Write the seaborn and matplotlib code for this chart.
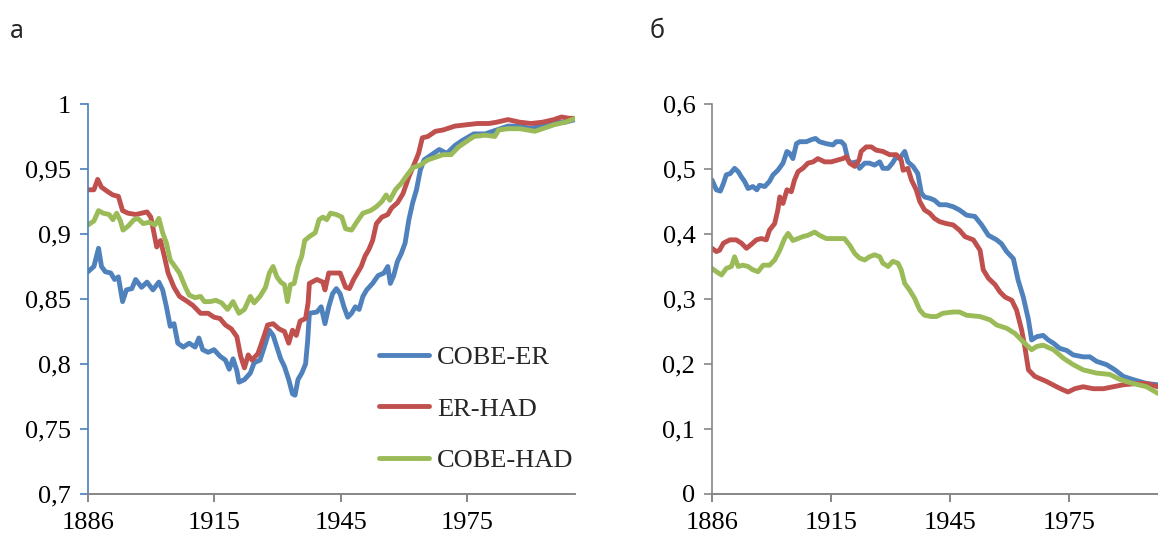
import matplotlib
matplotlib.use("Agg")
import matplotlib.pyplot as plt
from matplotlib.lines import Line2D
import numpy as np
import pandas as pd
import seaborn as sns

# ---------------- data ----------------
series_names = ["COBE-ER", "ER-HAD", "COBE-HAD"]
series_colors = ["#4F81BD", "#C0504D", "#9BBB59"]

x_tick_pos = [0, 30, 60, 90]
x_tick_labels = ["1886", "1915", "1945", "1975"]

a_y_ticks = [0.7, 0.75, 0.8, 0.85, 0.9, 0.95, 1.0]
a_y_labels = ["0,7", "0,75", "0,8", "0,85", "0,9", "0,95", "1"]
b_y_ticks = [0.0, 0.1, 0.2, 0.3, 0.4, 0.5, 0.6]
b_y_labels = ["0", "0,1", "0,2", "0,3", "0,4", "0,5", "0,6"]

# panel a (category index from 1886)
a_cobe_er_x = [0, 1.4, 2.5, 3.2, 4.1, 5.4, 6.3, 7.2, 8.2, 9.1, 10.4, 11.3, 12.7, 14.0, 15.4, 16.8, 17.7, 18.6,
               19.5, 20.4, 21.3, 22.6, 24.0, 25.4, 26.3, 27.2, 28.5, 29.9, 31.3, 32.6, 33.5, 34.4, 35.3, 35.8,
               37.1, 38.5, 39.4, 40.8, 42.1, 43.0, 43.9, 44.8, 45.7, 46.6, 47.6, 48.5, 49.1, 49.8, 50.7, 51.6,
               52.1, 52.5, 54.3, 55.3, 56.2, 57.1, 58.0, 58.9, 59.8, 60.7, 61.6, 62.5, 63.4, 64.3, 65.2, 66.1,
               67.5, 68.8, 70.2, 71.1, 71.7, 72.5, 73.4, 74.3, 75.2, 76.1, 77.0, 77.9, 78.8, 79.7, 81.5, 83.3,
               85.1, 87.0, 88.8, 91.5, 94.2, 96.9, 99.6, 102.4, 105.1, 107.8, 110.5, 113.2, 115.5]
a_cobe_er_y = [0.871, 0.875, 0.889, 0.875, 0.871, 0.870, 0.865, 0.867, 0.848, 0.857, 0.858, 0.865, 0.859, 0.863,
               0.857, 0.863, 0.857, 0.844, 0.829, 0.831, 0.816, 0.813, 0.816, 0.813, 0.820, 0.811, 0.809, 0.811,
               0.806, 0.803, 0.796, 0.804, 0.795, 0.786, 0.788, 0.793, 0.801, 0.803, 0.816, 0.826, 0.822, 0.813,
               0.804, 0.798, 0.788, 0.777, 0.776, 0.788, 0.793, 0.800, 0.818, 0.839, 0.840, 0.844, 0.831, 0.844,
               0.854, 0.858, 0.854, 0.844, 0.836, 0.839, 0.844, 0.842, 0.852, 0.857, 0.862, 0.868, 0.870, 0.875,
               0.862, 0.868, 0.879, 0.885, 0.893, 0.911, 0.924, 0.934, 0.949, 0.957, 0.961, 0.965, 0.962, 0.968,
               0.972, 0.977, 0.977, 0.980, 0.983, 0.983, 0.981, 0.984, 0.986, 0.986, 0.988]

a_er_had_x = [0, 1.4, 2.3, 3.2, 4.5, 5.9, 7.2, 8.2, 9.5, 11.3, 12.7, 14.0, 14.9, 16.3, 17.2, 18.1, 19.0, 20.4,
              21.7, 23.6, 24.9, 25.8, 26.7, 28.5, 29.9, 31.3, 32.6, 34.0, 35.3, 36.2, 37.1, 38.0, 38.9, 40.3,
              41.7, 42.6, 43.9, 45.3, 46.6, 47.6, 48.5, 49.4, 50.3, 51.6, 52.2, 52.5, 54.3, 55.7, 56.2, 57.1,
              58.4, 59.8, 61.1, 62.0, 63.0, 63.9, 64.8, 65.7, 66.6, 67.5, 68.4, 69.7, 71.1, 72.0, 73.4, 74.7,
              76.1, 77.4, 78.4, 79.3, 80.6, 82.4, 84.2, 87.0, 89.7, 92.4, 95.1, 96.9, 99.6, 102.4, 105.1, 107.8,
              110.5, 112.3, 114.1, 115.5]
a_er_had_y = [0.934, 0.934, 0.942, 0.936, 0.933, 0.930, 0.929, 0.918, 0.916, 0.915, 0.916, 0.917, 0.913, 0.890,
              0.895, 0.883, 0.870, 0.859, 0.852, 0.848, 0.845, 0.842, 0.839, 0.839, 0.836, 0.835, 0.830, 0.827,
              0.821, 0.806, 0.797, 0.807, 0.803, 0.808, 0.821, 0.830, 0.831, 0.827, 0.825, 0.816, 0.826, 0.822,
              0.833, 0.835, 0.847, 0.862, 0.865, 0.863, 0.857, 0.870, 0.870, 0.870, 0.859, 0.858, 0.865, 0.870,
              0.875, 0.883, 0.888, 0.895, 0.908, 0.913, 0.915, 0.920, 0.924, 0.931, 0.944, 0.954, 0.962, 0.974,
              0.975, 0.979, 0.980, 0.983, 0.984, 0.985, 0.985, 0.986, 0.988, 0.986, 0.985, 0.986, 0.988, 0.990,
              0.989, 0.989]

a_cobe_had_x = [0, 1.4, 2.5, 3.6, 5.0, 5.9, 6.8, 7.7, 8.3, 9.5, 10.9, 11.8, 13.1, 14.5, 15.9, 16.8, 17.7, 18.6,
                19.5, 20.4, 21.7, 23.1, 24.0, 25.4, 26.7, 27.6, 29.0, 30.3, 31.7, 33.1, 34.4, 35.8, 37.1, 38.5,
                39.4, 40.8, 42.1, 43.0, 43.9, 44.8, 45.7, 46.6, 47.3, 48.0, 48.9, 49.8, 50.7, 51.4, 52.5, 53.9,
                54.8, 55.7, 56.6, 57.5, 58.9, 60.2, 61.1, 62.5, 63.9, 65.2, 67.0, 68.4, 69.7, 70.7, 71.6, 72.9,
                74.3, 75.6, 77.0, 78.8, 80.6, 82.4, 84.2, 86.1, 87.9, 89.7, 91.5, 94.2, 96.5, 97.4, 99.6, 102.4,
                104.2, 106.0, 107.8, 110.5, 113.2, 115.5]
a_cobe_had_y = [0.907, 0.910, 0.918, 0.916, 0.915, 0.911, 0.916, 0.910, 0.903, 0.906, 0.911, 0.912, 0.908, 0.909,
                0.907, 0.912, 0.901, 0.893, 0.880, 0.876, 0.870, 0.859, 0.853, 0.851, 0.852, 0.848, 0.848, 0.849,
                0.847, 0.842, 0.848, 0.839, 0.842, 0.852, 0.847, 0.852, 0.859, 0.870, 0.875, 0.867, 0.863, 0.861,
                0.848, 0.861, 0.862, 0.875, 0.883, 0.895, 0.898, 0.901, 0.911, 0.913, 0.911, 0.916, 0.915, 0.913,
                0.904, 0.903, 0.910, 0.916, 0.918, 0.921, 0.925, 0.930, 0.926, 0.934, 0.939, 0.945, 0.951, 0.953,
                0.957, 0.959, 0.961, 0.961, 0.967, 0.971, 0.975, 0.976, 0.975, 0.980, 0.981, 0.981, 0.980, 0.979,
                0.981, 0.984, 0.986, 0.989]

# panel b
b_cobe_er_x = [0, 1.1, 2.1, 2.9, 3.6, 4.6, 5.7, 6.6, 7.4, 8.2, 9.1, 10.3, 11.3, 12.0, 13.3, 14.5, 15.4, 16.6,
               17.9, 18.9, 19.6, 20.4, 21.3, 22.1, 23.8, 25.0, 26.1, 27.1, 28.8, 30.5, 31.3, 32.6, 33.4, 34.3,
               35.1, 36.4, 37.2, 38.5, 39.7, 41.0, 42.3, 43.1, 44.4, 45.5, 46.5, 47.3, 48.6, 49.4, 50.7, 51.9,
               52.8, 53.6, 54.9, 56.1, 57.4, 59.1, 60.8, 62.4, 64.2, 66.3, 68.0, 69.7, 71.8, 73.0, 74.3, 76.0,
               77.2, 78.5, 79.8, 80.6, 81.9, 83.5, 84.8, 86.1, 87.7, 89.4, 91.1, 93.6, 95.3, 97.0, 99.5, 101.6,
               103.7, 106.2, 109.6, 112.4, 115.5]
b_cobe_er_y = [0.483, 0.468, 0.466, 0.478, 0.491, 0.493, 0.501, 0.496, 0.488, 0.481, 0.470, 0.473, 0.468, 0.475,
               0.473, 0.481, 0.491, 0.498, 0.509, 0.527, 0.524, 0.516, 0.539, 0.542, 0.542, 0.545, 0.547, 0.542,
               0.539, 0.537, 0.542, 0.542, 0.537, 0.514, 0.509, 0.511, 0.501, 0.509, 0.509, 0.506, 0.511, 0.501,
               0.501, 0.509, 0.519, 0.516, 0.527, 0.511, 0.504, 0.493, 0.463, 0.457, 0.455, 0.452, 0.445, 0.445,
               0.442, 0.437, 0.429, 0.427, 0.414, 0.398, 0.391, 0.385, 0.373, 0.362, 0.329, 0.303, 0.268, 0.237,
               0.242, 0.244, 0.237, 0.232, 0.224, 0.221, 0.214, 0.211, 0.211, 0.204, 0.199, 0.191, 0.181, 0.176,
               0.170, 0.168, 0.166]

b_er_had_x = [0, 1.1, 1.9, 2.9, 4.5, 6.1, 7.4, 8.7, 9.9, 11.2, 12.4, 13.7, 14.5, 15.8, 16.6, 17.1, 17.9, 18.9,
              20.0, 20.8, 21.7, 22.9, 24.2, 25.5, 26.7, 28.4, 30.1, 31.8, 33.0, 33.9, 34.7, 36.0, 37.1, 37.6,
              38.9, 40.2, 41.4, 43.1, 44.8, 46.5, 47.7, 48.2, 49.4, 50.3, 51.5, 52.4, 53.6, 54.9, 56.1, 57.4,
              59.1, 60.8, 62.4, 63.8, 65.9, 67.6, 68.4, 69.7, 71.4, 72.6, 73.9, 75.6, 76.8, 78.1, 78.9, 79.8,
              81.4, 84.4, 86.9, 88.6, 89.8, 91.5, 93.6, 96.1, 98.7, 101.2, 103.7, 107.1, 109.6, 112.4, 115.5]
b_er_had_y = [0.378, 0.373, 0.375, 0.386, 0.391, 0.391, 0.386, 0.378, 0.384, 0.391, 0.393, 0.391, 0.406, 0.416,
              0.437, 0.457, 0.447, 0.468, 0.465, 0.483, 0.496, 0.501, 0.509, 0.511, 0.516, 0.511, 0.511, 0.514,
              0.516, 0.519, 0.509, 0.504, 0.514, 0.527, 0.534, 0.534, 0.529, 0.527, 0.522, 0.522, 0.514, 0.498,
              0.501, 0.483, 0.468, 0.450, 0.437, 0.432, 0.424, 0.419, 0.416, 0.414, 0.406, 0.396, 0.391, 0.375,
              0.345, 0.332, 0.322, 0.311, 0.303, 0.298, 0.283, 0.252, 0.226, 0.191, 0.181, 0.173, 0.165, 0.160,
              0.157, 0.162, 0.165, 0.162, 0.162, 0.165, 0.168, 0.170, 0.170, 0.165, 0.163]

b_cobe_had_x = [0, 1.1, 2.4, 3.6, 4.9, 5.7, 6.6, 7.8, 9.1, 10.3, 11.6, 12.9, 14.5, 15.8, 17.1, 18.3, 19.2, 20.4,
                21.7, 22.9, 24.2, 25.9, 27.1, 28.8, 30.5, 32.2, 33.4, 34.7, 36.0, 37.2, 38.5, 39.7, 41.0, 42.3,
                43.1, 44.4, 45.6, 46.9, 47.7, 48.6, 49.8, 51.1, 52.4, 53.6, 55.3, 56.6, 58.2, 60.8, 62.4, 64.2,
                67.6, 70.1, 71.8, 74.3, 76.4, 78.5, 80.6, 81.9, 83.5, 86.1, 88.6, 91.1, 93.6, 97.0, 100.3, 102.9,
                106.2, 109.6, 112.4, 115.5]
b_cobe_had_y = [0.347, 0.342, 0.337, 0.347, 0.350, 0.365, 0.350, 0.352, 0.350, 0.345, 0.342, 0.352, 0.352, 0.360,
                0.375, 0.393, 0.401, 0.390, 0.393, 0.396, 0.398, 0.403, 0.398, 0.393, 0.393, 0.393, 0.393, 0.383,
                0.370, 0.363, 0.360, 0.365, 0.368, 0.365, 0.355, 0.350, 0.358, 0.355, 0.345, 0.324, 0.314, 0.301,
                0.283, 0.275, 0.273, 0.273, 0.278, 0.280, 0.280, 0.275, 0.273, 0.268, 0.260, 0.255, 0.247, 0.234,
                0.222, 0.227, 0.229, 0.222, 0.209, 0.199, 0.191, 0.186, 0.184, 0.176, 0.170, 0.165, 0.155, 0.148]


def make_df(xs, ys):
    frames = []
    for name, x, y in zip(series_names, xs, ys):
        frames.append(pd.DataFrame({"idx": x, "value": y, "series": name}))
    return pd.concat(frames, ignore_index=True)


df_a = make_df([a_cobe_er_x, a_er_had_x, a_cobe_had_x], [a_cobe_er_y, a_er_had_y, a_cobe_had_y])
df_b = make_df([b_cobe_er_x, b_er_had_x, b_cobe_had_x], [b_cobe_er_y, b_er_had_y, b_cobe_had_y])

# ---------------- style ----------------
sns.set_theme(style="white")
plt.rcParams["font.family"] = ["Liberation Serif", "DejaVu Serif"]

W, H = 1158, 539
fig = plt.figure(figsize=(W / 100, H / 100), dpi=100)
fig.patch.set_facecolor("white")

ax_a = fig.add_axes([88 / W, 1 - 494 / H, 487 / W, 390 / H])
ax_b = fig.add_axes([712 / W, 1 - 494 / H, 458 / W, 390 / H])

palette = dict(zip(series_names, series_colors))
LW = 3.5
GRAY = "#868686"
AXBLUE = "#4A7EBB"

for ax, df, yt, yl, ylim, lcolor in [
    (ax_a, df_a, a_y_ticks, a_y_labels, (0.7, 1.0), AXBLUE),
    (ax_b, df_b, b_y_ticks, b_y_labels, (0.0, 0.6), GRAY),
]:
    sns.lineplot(data=df, x="idx", y="value", hue="series", hue_order=series_names,
                 palette=palette, estimator=None, sort=False, linewidth=LW,
                 legend=False, ax=ax, solid_joinstyle="round", solid_capstyle="round")
    ax.set_xlim(0, 115.5)
    ax.set_ylim(*ylim)
    ax.set_xticks(x_tick_pos)
    ax.set_xticklabels(x_tick_labels)
    ax.set_yticks(yt)
    ax.set_yticklabels(yl)
    ax.set_xlabel("")
    ax.set_ylabel("")
    for s in ["top", "right"]:
        ax.spines[s].set_visible(False)
    ax.spines["left"].set_color(lcolor)
    ax.spines["left"].set_linewidth(1.2)
    ax.spines["bottom"].set_color(GRAY)
    ax.spines["bottom"].set_linewidth(1.4)
    ax.tick_params(axis="y", direction="out", length=6, width=1.2, color=lcolor,
                   labelsize=19, pad=6, labelcolor="black", left=True)
    ax.tick_params(axis="x", direction="out", length=6, width=1.4, color=GRAY,
                   labelsize=19, pad=7, labelcolor="black", bottom=True)
    ax.set_facecolor("white")
    ax.grid(False)

handles = [Line2D([0], [0], color=c, lw=LW, solid_capstyle="round") for c in series_colors]
ax_a.legend(handles, series_names, loc="upper left", bbox_to_anchor=(379 / W, 1 - 346 / H),
            bbox_transform=fig.transFigure, frameon=False, fontsize=19, handlelength=1.9,
            handletextpad=0.3, labelspacing=1.05, borderpad=0, borderaxespad=0)

fig.text(10 / W, 1 - 38 / H, "а", fontsize=18, family=["Noto Sans", "DejaVu Sans"], va="baseline")
fig.text(650 / W, 1 - 38 / H, "б", fontsize=18, family=["Noto Sans", "DejaVu Sans"], va="baseline")

fig.savefig("out.png", dpi=100, facecolor="white")
